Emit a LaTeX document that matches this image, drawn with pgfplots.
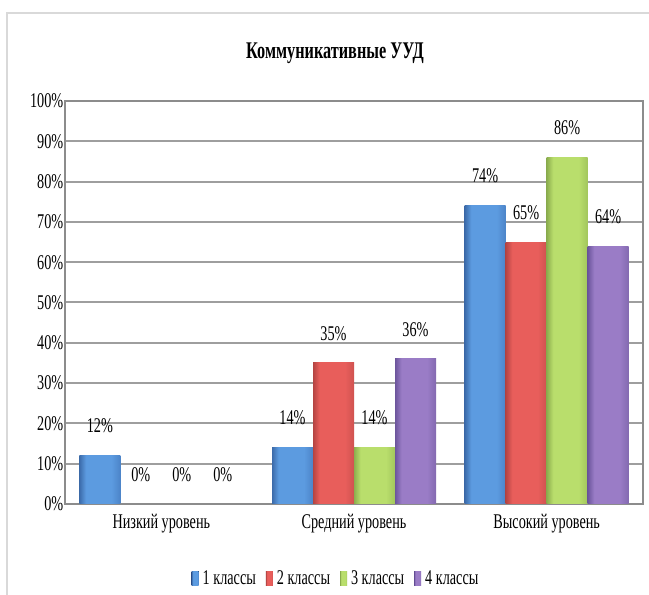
\documentclass[border=0pt]{standalone}
\usepackage{pgfplots}
\pgfplotsset{compat=1.18}
\usepackage{fontspec}
\setmainfont[FakeStretch=0.68]{Liberation Serif}
\definecolor{bL}{HTML}{3C6BAA}
\definecolor{bM}{HTML}{5C9BE0}
\definecolor{bR}{HTML}{4C84C8}
\definecolor{rL}{HTML}{B44442}
\definecolor{rM}{HTML}{E85E5B}
\definecolor{rR}{HTML}{CF5250}
\definecolor{gL}{HTML}{8CAE4E}
\definecolor{gM}{HTML}{B9DE6C}
\definecolor{gR}{HTML}{A2C65C}
\definecolor{pL}{HTML}{6C559C}
\definecolor{pM}{HTML}{9A7CC6}
\definecolor{pR}{HTML}{8369B0}
\pgfdeclarehorizontalshading{shB}{100bp}{color(0bp)=(bL); color(25bp)=(bL); color(33bp)=(bM); color(64bp)=(bM); color(75bp)=(bR); color(100bp)=(bR)}
\pgfdeclarehorizontalshading{shR}{100bp}{color(0bp)=(rL); color(25bp)=(rL); color(33bp)=(rM); color(64bp)=(rM); color(75bp)=(rR); color(100bp)=(rR)}
\pgfdeclarehorizontalshading{shG}{100bp}{color(0bp)=(gL); color(25bp)=(gL); color(33bp)=(gM); color(64bp)=(gM); color(75bp)=(gR); color(100bp)=(gR)}
\pgfdeclarehorizontalshading{shP}{100bp}{color(0bp)=(pL); color(25bp)=(pL); color(33bp)=(pM); color(64bp)=(pM); color(75bp)=(pR); color(100bp)=(pR)}
\pgfplotsset{
 sB/.style={draw=none, shading=shB},
 sR/.style={draw=none, shading=shR},
 sG/.style={draw=none, shading=shG},
 sP/.style={draw=none, shading=shP},
}
\begin{document}
\begin{tikzpicture}
\useasboundingbox (0,0) rectangle (649bp,595bp);
\fill[white] (0,0) rectangle (649bp,595bp);
\draw[black!15, line width=1.2bp] (7bp,0) -- (7bp,582bp) -- (649bp,582bp);
\node[font=\fontsize{24}{28}\selectfont\bfseries] at (335bp,542bp) {Коммуникативные УУД};
\begin{axis}[
 at={(65bp,91bp)}, anchor=south west, scale only axis,
 width=578bp, height=403bp,
 xmin=-0.5, xmax=2.5, ymin=0, ymax=100,
 ybar=0pt, bar width=41bp,
 xtick={0,1,2},
 xticklabels={Низкий уровень, Средний уровень, Высокий уровень},
 ytick={0,10,20,30,40,50,60,70,80,90,100},
 yticklabels={0\%,10\%,20\%,30\%,40\%,50\%,60\%,70\%,80\%,90\%,100\%},
 major tick length=0pt,
 ymajorgrids, grid style={black!38, line width=2bp},
 axis line style={black!45, line width=1.2bp},
 tick label style={font=\fontsize{21}{25}\selectfont},
 yticklabel style={inner sep=1.5bp},
 xticklabel style={yshift=-7bp},
 /pgf/number format/assume math mode=true,
 nodes near coords={\pgfmathprintnumber{\pgfplotspointmeta}\%},
 every node near coord/.append style={font=\fontsize{21}{25}\selectfont, black, anchor=south, yshift=19bp},
 legend style={at={(0.469,-0.184)}, anchor=center, draw=none, fill=none,
   legend columns=4, font=\fontsize{21}{25}\selectfont,
   /tikz/every even column/.append style={column sep=8bp}},
 legend image code/.code={\fill[#1] (0bp,-7bp) rectangle (7bp,7bp); \path (9bp,0bp);},
]
\addplot[sB, bar shift=-61.5bp, forget plot] coordinates {(0,12)};
\addplot[sB, bar shift=-61.5bp, forget plot] coordinates {(1,14)};
\addplot[sB, bar shift=-61.5bp, forget plot] coordinates {(2,74)};
\addplot[sR, bar shift=-20.5bp, forget plot] coordinates {(0,0)};
\addplot[sR, bar shift=-20.5bp, forget plot] coordinates {(1,35)};
\addplot[sR, bar shift=-20.5bp, forget plot] coordinates {(2,65)};
\addplot[sG, bar shift=20.5bp, forget plot] coordinates {(0,0)};
\addplot[sG, bar shift=20.5bp, forget plot] coordinates {(1,14)};
\addplot[sG, bar shift=20.5bp, forget plot] coordinates {(2,86)};
\addplot[sP, bar shift=61.5bp, forget plot] coordinates {(0,0)};
\addplot[sP, bar shift=61.5bp, forget plot] coordinates {(1,36)};
\addplot[sP, bar shift=61.5bp, forget plot] coordinates {(2,64)};
\addlegendimage{sB}\addlegendentry{1 классы}
\addlegendimage{sR}\addlegendentry{2 классы}
\addlegendimage{sG}\addlegendentry{3 классы}
\addlegendimage{sP}\addlegendentry{4 классы}
\end{axis}
\end{tikzpicture}
\end{document}
